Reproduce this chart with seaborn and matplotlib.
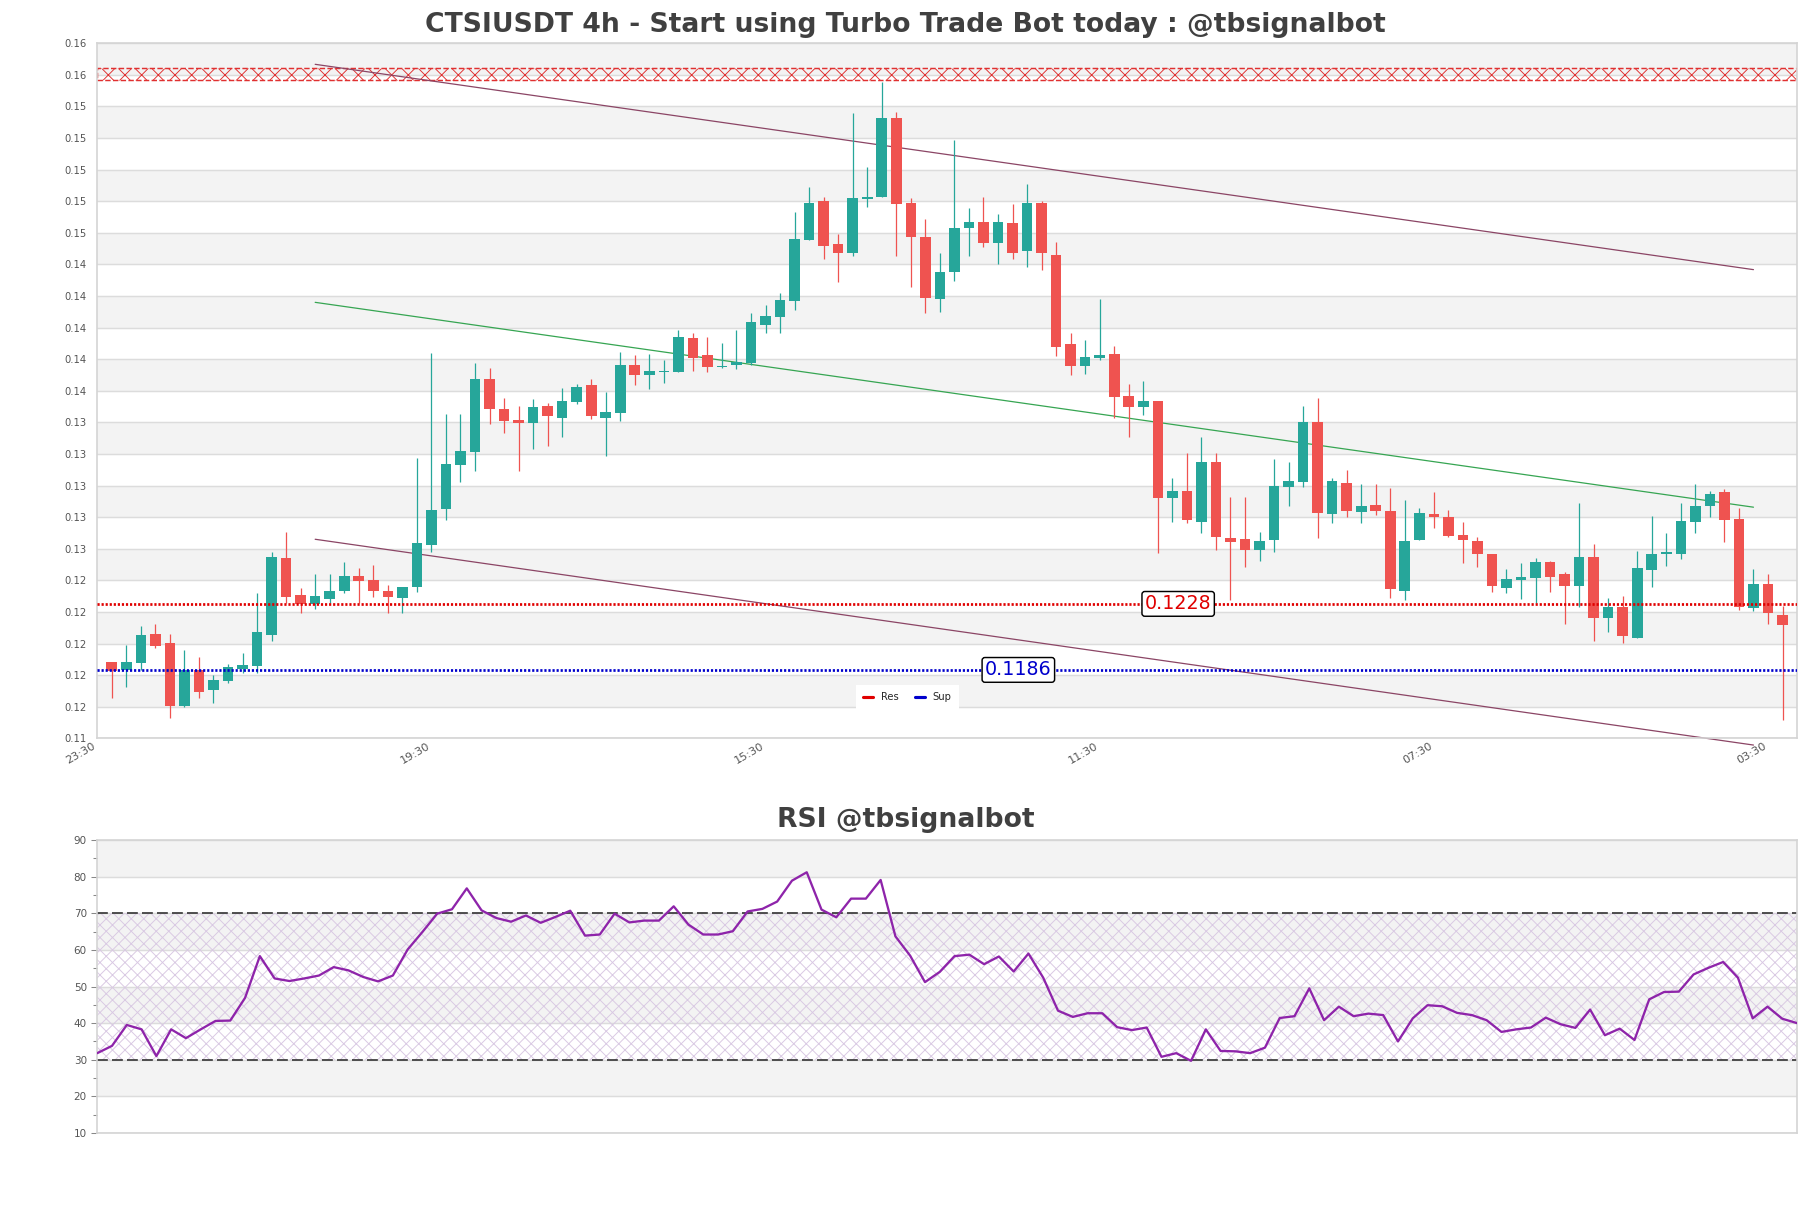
import numpy as np
import pandas as pd
import seaborn as sns
import matplotlib.pyplot as plt
from matplotlib.lines import Line2D
from matplotlib.ticker import MultipleLocator

sns.set_theme(style="white")
plt.rcParams['font.family'] = ['DejaVu Sans']
plt.rcParams['hatch.linewidth'] = 0.45

# 4h candles
opens = [0.11911, 0.11860, 0.11906, 0.12089, 0.12030, 0.11633, 0.11860, 0.11733, 0.11790, 0.11864,
         0.11887, 0.12082, 0.12570, 0.12337, 0.12278, 0.12313, 0.12364, 0.12458, 0.12432, 0.12362,
         0.12316, 0.12386, 0.12657, 0.12886, 0.13166, 0.13248, 0.13711, 0.13520, 0.13450, 0.13429,
         0.13539, 0.13464, 0.13566, 0.13672, 0.13464, 0.13496, 0.13800, 0.13736, 0.13755, 0.13757,
         0.13973, 0.13863, 0.13785, 0.13798, 0.13814, 0.14056, 0.14107, 0.14209, 0.14595, 0.14843,
         0.14569, 0.14514, 0.14857, 0.14866, 0.15369, 0.14828, 0.14612, 0.14217, 0.14389, 0.14669,
         0.14707, 0.14577, 0.14701, 0.14527, 0.14832, 0.14499, 0.13933, 0.13795, 0.13846, 0.13870,
         0.13602, 0.13534, 0.13571, 0.12956, 0.12998, 0.12803, 0.13183, 0.12697, 0.12691, 0.12623,
         0.12687, 0.13026, 0.13057, 0.13437, 0.12850, 0.13047, 0.12867, 0.12909, 0.12871, 0.12364,
         0.12687, 0.12850, 0.12831, 0.12718, 0.12678, 0.12598, 0.12383, 0.12432, 0.12447, 0.12547,
         0.12470, 0.12396, 0.12577, 0.12192, 0.12262, 0.12065, 0.12496, 0.12596, 0.12596, 0.12803,
         0.12905, 0.12990, 0.12820, 0.12256, 0.12407, 0.12210]
highs = [0.11911, 0.12019, 0.12140, 0.12152, 0.12089, 0.11987, 0.11944, 0.11828, 0.11898, 0.11970,
         0.12348, 0.12612, 0.12739, 0.12383, 0.12470, 0.12470, 0.12547, 0.12509, 0.12528, 0.12400,
         0.12386, 0.13206, 0.13874, 0.13486, 0.13486, 0.13814, 0.13779, 0.13588, 0.13539, 0.13581,
         0.13556, 0.13651, 0.13679, 0.13711, 0.13630, 0.13880, 0.13863, 0.13870, 0.13831, 0.14022,
         0.14001, 0.13980, 0.13938, 0.14022, 0.14132, 0.14181, 0.14256, 0.14771, 0.14934, 0.14870,
         0.14633, 0.15404, 0.15057, 0.15600, 0.15407, 0.14860, 0.14726, 0.14510, 0.15231, 0.14796,
         0.14870, 0.14760, 0.14824, 0.14951, 0.14840, 0.14584, 0.14005, 0.13959, 0.14217, 0.13920,
         0.13679, 0.13698, 0.13571, 0.13081, 0.13238, 0.13342, 0.13238, 0.12960, 0.12960, 0.12737,
         0.13202, 0.13183, 0.13539, 0.13588, 0.13079, 0.13132, 0.13041, 0.13041, 0.13015, 0.12941,
         0.12888, 0.12990, 0.12877, 0.12799, 0.12708, 0.12598, 0.12500, 0.12538, 0.12570, 0.12553,
         0.12485, 0.12920, 0.12661, 0.12316, 0.12330, 0.12617, 0.12839, 0.12729, 0.12920, 0.13041,
         0.12998, 0.13011, 0.12888, 0.12502, 0.12470, 0.12269]
lows = [0.11680, 0.11754, 0.11860, 0.11998, 0.11556, 0.11626, 0.11684, 0.11648, 0.11775, 0.11839,
        0.11839, 0.12046, 0.12284, 0.12220, 0.12246, 0.12284, 0.12348, 0.12284, 0.12326, 0.12224,
        0.12220, 0.12358, 0.12612, 0.12814, 0.13057, 0.13127, 0.13424, 0.13365, 0.13127, 0.13265,
        0.13286, 0.13344, 0.13552, 0.13456, 0.13223, 0.13445, 0.13672, 0.13647, 0.13687, 0.13757,
        0.13761, 0.13757, 0.13779, 0.13774, 0.13800, 0.14005, 0.14001, 0.14149, 0.14595, 0.14472,
        0.14329, 0.14493, 0.14806, 0.14866, 0.14493, 0.14298, 0.14128, 0.14139, 0.14336, 0.14495,
        0.14548, 0.14442, 0.14472, 0.14425, 0.14404, 0.13857, 0.13736, 0.13742, 0.13831, 0.13461,
        0.13339, 0.13482, 0.12604, 0.12803, 0.12797, 0.12729, 0.12623, 0.12305, 0.12517, 0.12555,
        0.12612, 0.12903, 0.13026, 0.12697, 0.12797, 0.12835, 0.12797, 0.12846, 0.12316, 0.12305,
        0.12687, 0.12765, 0.12708, 0.12542, 0.12517, 0.12358, 0.12348, 0.12311, 0.12284, 0.12358,
        0.12152, 0.12262, 0.12046, 0.12103, 0.12030, 0.12065, 0.12386, 0.12523, 0.12566, 0.12733,
        0.12835, 0.12676, 0.12241, 0.12237, 0.12152, 0.11542]
closes = [0.11855, 0.11911, 0.12082, 0.12014, 0.11633, 0.11860, 0.11722, 0.11796, 0.11877, 0.11892,
          0.12101, 0.12577, 0.12326, 0.12280, 0.12330, 0.12362, 0.12458, 0.12428, 0.12364, 0.12326,
          0.12386, 0.12668, 0.12877, 0.13170, 0.13253, 0.13711, 0.13518, 0.13445, 0.13429, 0.13531,
          0.13477, 0.13571, 0.13658, 0.13477, 0.13499, 0.13800, 0.13736, 0.13763, 0.13763, 0.13980,
          0.13846, 0.13789, 0.13795, 0.13821, 0.14075, 0.14113, 0.14213, 0.14601, 0.14828, 0.14558,
          0.14510, 0.14860, 0.14868, 0.15369, 0.14822, 0.14612, 0.14228, 0.14389, 0.14669, 0.14707,
          0.14577, 0.14707, 0.14514, 0.14832, 0.14510, 0.13916, 0.13795, 0.13849, 0.13863, 0.13598,
          0.13534, 0.13571, 0.12956, 0.12998, 0.12814, 0.13183, 0.12708, 0.12676, 0.12623, 0.12678,
          0.13030, 0.13062, 0.13437, 0.12856, 0.13062, 0.12873, 0.12903, 0.12873, 0.12377, 0.12680,
          0.12856, 0.12835, 0.12712, 0.12687, 0.12596, 0.12396, 0.12437, 0.12453, 0.12547, 0.12453,
          0.12396, 0.12577, 0.12192, 0.12262, 0.12078, 0.12507, 0.12598, 0.12610, 0.12807, 0.12903,
          0.12979, 0.12814, 0.12262, 0.12407, 0.12220, 0.12146]

rsi = [31.8, 33.8, 39.5, 38.3, 31.0, 38.3, 35.9, 38.3, 40.6, 40.7,
       46.9, 58.3, 52.2, 51.5, 52.2, 53.0, 55.3, 54.4, 52.6, 51.4,
       53.0, 60.1, 64.9, 69.9, 71.1, 76.8, 70.8, 68.7, 67.7, 69.4,
       67.4, 69.0, 70.7, 63.9, 64.2, 69.9, 67.5, 68.0, 68.0, 71.9,
       66.9, 64.2, 64.2, 65.1, 70.5, 71.2, 73.2, 78.9, 81.2, 71.0,
       68.9, 74.0, 74.0, 79.1, 63.7, 58.4, 51.2, 54.0, 58.3, 58.7,
       56.1, 58.2, 54.1, 59.0, 52.4, 43.4, 41.7, 42.7, 42.7, 38.9,
       38.1, 38.8, 30.8, 31.8, 29.7, 38.3, 32.4, 32.3, 31.8, 33.3,
       41.4, 41.9, 49.5, 40.8, 44.5, 41.9, 42.6, 42.2, 35.0, 41.3,
       44.9, 44.6, 42.8, 42.2, 40.8, 37.6, 38.3, 38.8, 41.5, 39.7,
       38.7, 43.7, 36.7, 38.5, 35.4, 46.5, 48.5, 48.6, 53.3, 55.1,
       56.7, 52.4, 41.3, 44.5, 41.2, 40.0]

tick_pos = [-1, 22, 45, 68, 91, 114]
tick_labels = ["23:30", "19:30", "15:30", "11:30", "07:30", "03:30"]

res_level = 0.1228
sup_level = 0.1186
res_zone = [0.1561, 0.1569]
trend_x = [14, 113]
upper_trend = [0.15712, 0.14406]
mid_trend = [0.14198, 0.12895]
lower_trend = [0.12691, 0.11382]
price_range = [0.11424, 0.15846]

up_color = '#26a69a'
down_color = '#ef5350'
band_color = '#f3f3f3'
grid_color = '#dcdcdc'
spine_color = '#d4d4d4'
text_color = '#555555'

df = pd.DataFrame({'open': opens, 'high': highs, 'low': lows, 'close': closes})
df['idx'] = np.arange(len(df))
df['color'] = np.where(df['close'] >= df['open'], up_color, down_color)
df['body_low'] = df[['open', 'close']].min(axis=1)
df['body_h'] = (df['close'] - df['open']).abs().clip(lower=0.00004)

fig = plt.figure(figsize=(1811 / 150, 1208 / 150), dpi=150)
ax = fig.add_axes([0.0537, 0.3887, 0.9386, 0.5755])
ax2 = fig.add_axes([0.0537, 0.0621, 0.9386, 0.2425])

# ---- price panel ----
yt = np.linspace(price_range[0], price_range[1], 23)
for k in range(len(yt) - 1):
    if k % 2 == 1:
        ax.axhspan(yt[k], yt[k + 1], color=band_color, lw=0, zorder=0)
ax.set_yticks(yt)
ax.set_yticklabels([f'{v:.2f}' for v in yt])
ax.yaxis.grid(True, color=grid_color, lw=0.7)
ax.set_axisbelow(True)

ax.axhspan(res_zone[0], res_zone[1], facecolor='none', edgecolor='#e03030',
           hatch='xxx', lw=0.7, ls='--', zorder=1)

ax.vlines(df['idx'], df['low'], df['high'], colors=df['color'], lw=0.6, zorder=3)
ax.bar(df['idx'], df['body_h'], bottom=df['body_low'], width=0.73,
       color=df['color'], lw=0, zorder=4)

ax.plot(trend_x, upper_trend, color='#8b4565', lw=0.6, zorder=2)
ax.plot(trend_x, lower_trend, color='#8b4565', lw=0.6, zorder=2, clip_on=False)
ax.plot(trend_x, mid_trend, color='#36a552', lw=0.6, zorder=2)

ax.axhline(res_level, color='#e00000', lw=1.3, ls=(0, (0.8, 0.7)), zorder=5)
ax.axhline(sup_level, color='#0000cc', lw=1.3, ls=(0, (0.8, 0.7)), zorder=5)
ax.text(73.4, res_level, f'{res_level:.4f}', color='#e00000', fontsize=9.2,
        ha='center', va='center', zorder=6,
        bbox=dict(boxstyle='round,pad=0.15', fc='white', ec='black', lw=0.7))
ax.text(62.4, sup_level, f'{sup_level:.4f}', color='#0000cc', fontsize=9.2,
        ha='center', va='center', zorder=6,
        bbox=dict(boxstyle='round,pad=0.15', fc='white', ec='black', lw=0.7))

handles = [Line2D([0], [0], color='#e00000', lw=1.5),
           Line2D([0], [0], color='#0000cc', lw=1.5)]
ax.legend(handles, ['Res', 'Sup'], loc='lower center', ncol=2,
          bbox_to_anchor=(0.501, 1 - 713 / 1208), bbox_transform=fig.transFigure,
          fontsize=4.8, frameon=True, framealpha=1, edgecolor='white',
          fancybox=False, handlelength=1.0, columnspacing=1.6, borderpad=0.6)

ax.set_xlim(-1, len(df))
ax.set_ylim(price_range)
ax.set_xticks(tick_pos)
ax.set_xticklabels(tick_labels, rotation=30, ha='right')
ax.tick_params(axis='y', length=0, pad=5, labelsize=4.8, labelcolor=text_color)
ax.tick_params(axis='x', length=0, pad=1, labelsize=5.4, labelcolor=text_color)
for s in ax.spines.values():
    s.set_color(spine_color)
    s.set_linewidth(0.8)

# ---- RSI panel ----
for lo in [20, 40, 60, 80]:
    ax2.axhspan(lo, lo + 10, color=band_color, lw=0, zorder=0)
ax2.axhspan(30, 70, facecolor='none', edgecolor='#d9c9e3', hatch='xxxx', lw=0, zorder=1)
ax2.yaxis.grid(True, color=grid_color, lw=0.7)
ax2.set_axisbelow(True)
ax2.axhline(70, color='#333333', lw=0.8, ls=(0, (6.5, 2.5)), zorder=2)
ax2.axhline(30, color='#333333', lw=0.8, ls=(0, (6.5, 2.5)), zorder=2)

rsi_df = pd.DataFrame({'idx': np.arange(len(rsi)), 'rsi': rsi})
sns.lineplot(data=rsi_df, x='idx', y='rsi', ax=ax2, color='#8e24aa', lw=1.1, zorder=3)

ax2.set_xlim(0, len(rsi) - 1)
ax2.set_ylim(10, 90)
ax2.set_yticks(range(10, 91, 10))
ax2.yaxis.set_minor_locator(MultipleLocator(5))
ax2.set_xticks([])
ax2.set_xlabel('')
ax2.set_ylabel('')
ax2.tick_params(axis='y', which='major', left=True, length=3, width=0.5, color='#888888',
                pad=2, labelsize=5, labelcolor=text_color)
ax2.tick_params(axis='y', which='minor', left=True, length=2, width=0.5, color='#888888')
for s in ax2.spines.values():
    s.set_color(spine_color)
    s.set_linewidth(0.8)

fig.text(0.5, 0.979, 'CTSIUSDT 4h - Start using Turbo Trade Bot today : @tbsignalbot',
         ha='center', va='center', fontsize=12.8, fontweight='bold', color='#404040')
fig.text(0.5, 0.321, 'RSI @tbsignalbot', ha='center', va='center',
         fontsize=12.8, fontweight='bold', color='#404040')

fig.savefig('out.png', dpi=150, facecolor='white')
